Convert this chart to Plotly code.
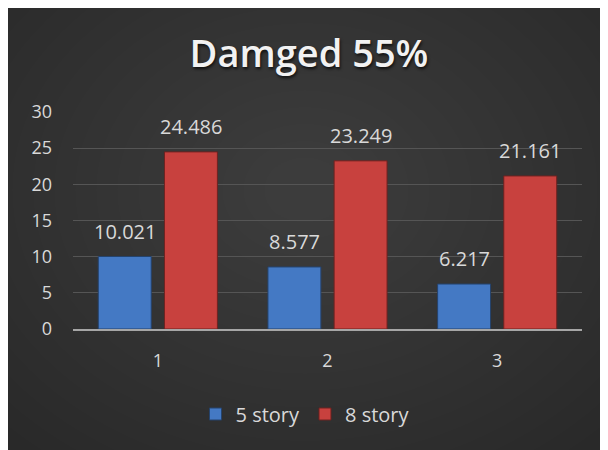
import plotly.graph_objects as go

categories = ["1", "2", "3"]
story5 = [10.021, 8.577, 6.217]
story8 = [24.486, 23.249, 21.161]
series_names = ["5 story", "8 story"]

# page has an 8px body margin, so the figure is a bit smaller than the window
OFF = 8
W, H = 608 - OFF, 450 - OFF
ML, MR, MT, MB = 65, 26, 104, 121
PW, PH = W - ML - MR, H - MT - MB


# screen pixel -> paper coords
def px(x):
    return (x - OFF - ML) / PW


def py(y):
    return (H - MB - (y - OFF)) / PH


fig = go.Figure()
fig.add_bar(name=series_names[0], x=categories, y=story5,
            marker=dict(color="#4479c4", line=dict(color="#25436c", width=1)))
fig.add_bar(name=series_names[1], x=categories, y=story8,
            marker=dict(color="#c8413e", line=dict(color="#6e2220", width=1)))

# data labels above each bar (category axis -> use index)
annotations = []
for vals, shift in ((story5, -33), (story8, 33)):
    for i, v in enumerate(vals):
        annotations.append(dict(x=i, y=v, text=f"{v:.3f}", showarrow=False,
                                xshift=shift, yshift=10, yanchor="bottom",
                                font=dict(family="Open Sans", size=20, color="#d9d9d9")))

# soft radial glow on the dark background
shapes = []
cx, cy = 305, 190
for i in range(20):
    r = 440 - i * 21
    shapes.append(dict(type="circle", xref="paper", yref="paper", layer="below",
                       x0=px(cx - r), x1=px(cx + r), y0=py(cy + r * 0.8), y1=py(cy - r * 0.8),
                       fillcolor="rgba(255,255,255,0.0095)", line=dict(width=0)))

fig.update_layout(
    width=W, height=H,
    margin=dict(l=ML, r=MR, t=MT, b=MB),
    paper_bgcolor="#282828",
    plot_bgcolor="rgba(0,0,0,0)",
    barmode="group", bargap=0.22, bargroupgap=0.2,
    title=dict(text="Damged 55%", x=(309 - OFF) / W, xanchor="center",
               y=1 - (54 - OFF) / H, yanchor="middle",
               font=dict(family="Open Sans", size=38, weight=600, color="#f2f2f2",
                         shadow="1px 2px 3px rgba(0,0,0,0.7)")),
    font=dict(family="Open Sans", size=18, color="#d9d9d9"),
    legend=dict(orientation="h", x=px(305), xanchor="center", y=py(414), yanchor="middle",
                bgcolor="rgba(0,0,0,0)", font=dict(size=20, color="#d9d9d9")),
    shapes=shapes,
    annotations=annotations,
)
fig.update_xaxes(type="category", showline=True, linecolor="#a6a6a6", linewidth=2,
                 showgrid=False, ticks="", ticklabelstandoff=14,
                 tickfont=dict(size=18, color="#d9d9d9"))
fig.update_yaxes(range=[0, 30], dtick=5, showgrid=True, gridcolor="#555555", gridwidth=1,
                 zeroline=False, showline=False, ticks="", ticklabelstandoff=20,
                 tickfont=dict(size=18, color="#d9d9d9"))

fig.write_html("out.html")
